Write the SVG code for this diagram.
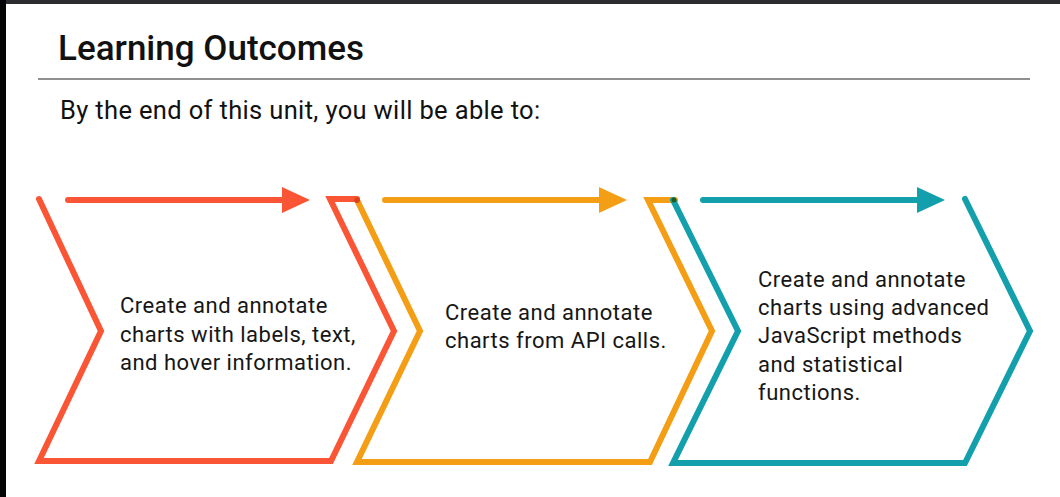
<svg xmlns="http://www.w3.org/2000/svg" width="1060" height="497" viewBox="0 0 1060 497">
<style>
.bg{fill:#ffffff}
.title{font-family:Roboto,"Liberation Sans",sans-serif;font-size:35px;font-weight:500;fill:#111}
.sub{font-family:Roboto,"Liberation Sans",sans-serif;font-size:25.5px;letter-spacing:0.35px;fill:#111}
.lbl{font-family:Roboto,"Liberation Sans",sans-serif;font-size:22px;letter-spacing:0.5px;fill:#161616}
.chev{fill:none;stroke-width:6;stroke-linecap:round;stroke-linejoin:miter;stroke-miterlimit:10}
.arr{fill:none;stroke-width:6;stroke-linecap:round}
.red{stroke:#FA5535}
.orange{stroke:#F49E15}
.teal{stroke:#13A0AC}
</style>
<defs>
<marker id="hRed" viewBox="0 0 28 26" markerWidth="28" markerHeight="26" markerUnits="userSpaceOnUse" refX="1" refY="13" orient="auto"><path d="M0,0 L28,13 L0,26 z" fill="#FA5535"/></marker>
<marker id="hOrange" viewBox="0 0 28 26" markerWidth="28" markerHeight="26" markerUnits="userSpaceOnUse" refX="1" refY="13" orient="auto"><path d="M0,0 L28,13 L0,26 z" fill="#F49E15"/></marker>
<marker id="hTeal" viewBox="0 0 28 26" markerWidth="28" markerHeight="26" markerUnits="userSpaceOnUse" refX="1" refY="13" orient="auto"><path d="M0,0 L28,13 L0,26 z" fill="#13A0AC"/></marker>
</defs>
<rect class="bg" x="0" y="0" width="1060" height="497"/>
<rect x="0" y="0" width="1060" height="4" fill="#2b2b30"/>
<rect x="0" y="0" width="6" height="497" fill="#050505"/>
<g id="header">
<text class="title" x="58" y="60">Learning Outcomes</text>
<line x1="38" y1="79" x2="1030" y2="79" stroke="#6a6a6a" stroke-width="1.5"/>
<text class="sub" x="60" y="119">By the end of this unit, you will be able to:</text>
</g>
<g id="step1">
<polyline class="chev red" points="39,199 101,331 39,461 331,461 394,331 330,199 357,199"/>
<text class="lbl" x="120" y="313">Create and annotate</text>
<text class="lbl" x="120" y="341.5">charts with labels, text,</text>
<text class="lbl" x="120" y="370">and hover information.</text>
</g>
<g id="step2">
<polyline class="chev orange" points="357,200 420,331 357,462 650,462 712,331 648,200 675,200"/>
<circle cx="357" cy="200" r="3" fill="#E0401F"/>
<text class="lbl" x="445" y="320">Create and annotate</text>
<text class="lbl" x="445" y="348">charts from API calls.</text>
</g>
<g id="step3">
<polyline class="chev teal" points="673,200 738,331 673,463 965,463 1030,331 965,199"/>
<circle cx="674" cy="200" r="2.5" fill="#1E5A1E"/>
<text class="lbl" x="758" y="286.5">Create and annotate</text>
<text class="lbl" x="758" y="315">charts using advanced</text>
<text class="lbl" x="758" y="343">JavaScript methods</text>
<text class="lbl" x="758" y="371.5">and statistical</text>
<text class="lbl" x="758" y="400">functions.</text>
</g>
<g id="connectors">
<line class="arr red" x1="68" y1="200" x2="283" y2="200" marker-end="url(#hRed)"/>
<line class="arr orange" x1="385" y1="200" x2="600" y2="200" marker-end="url(#hOrange)"/>
<line class="arr teal" x1="703" y1="200" x2="918" y2="200" marker-end="url(#hTeal)"/>
</g>
</svg>
